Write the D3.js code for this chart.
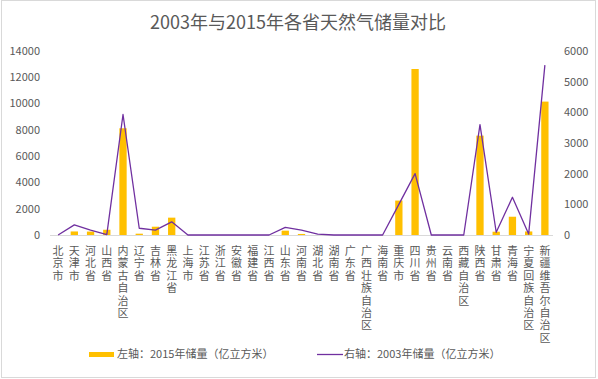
<!DOCTYPE html>
<html><head><meta charset="utf-8">
<script src="https://cdn.jsdelivr.net/npm/d3@7"></script>
<style>
html,body{margin:0;padding:0;background:#fff;}
svg{display:block;font-family:"Noto Sans CJK SC","Microsoft YaHei",sans-serif;}
.cat{font-family:"Liberation Sans","Noto Sans CJK SC",sans-serif;}
</style></head>
<body><svg id="c" width="598" height="379"></svg>
<script>
const categories = ["北京市","天津市","河北省","山西省","内蒙古自治区","辽宁省","吉林省","黑龙江省","上海市","江苏省","浙江省","安徽省","福建省","江西省","山东省","河南省","湖北省","湖南省","广东省","广西壮族自治区","海南省","重庆市","四川省","贵州省","云南省","西藏自治区","陕西省","甘肃省","青海省","宁夏回族自治区","新疆维吾尔自治区"];
const reserves2015 = [0,270,260,400,8120,100,630,1320,0,0,0,0,0,0,330,80,0,0,0,0,0,2620,12630,0,0,0,7560,250,1390,270,10150];
const reserves2003 = [0,330,160,10,3930,220,160,430,0,0,0,0,0,0,250,160,30,0,0,0,0,1000,2000,0,0,0,3600,90,1230,30,5540];
const leftTicks = [0,2000,4000,6000,8000,10000,12000,14000];
const rightTicks = [0,1000,2000,3000,4000,5000,6000];
const title = "2003年与2015年各省天然气储量对比";
const legendLabels = ["左轴：2015年储量（亿立方米）","右轴：2003年储量（亿立方米）"];

const svg = d3.select("#c");
const textColor = "#595959";
const barColor = "#FFC000";
const lineColor = "#7030A0";

svg.append("rect").attr("x",1.5).attr("y",0.5).attr("width",594).attr("height",377)
  .attr("fill","#fff").attr("stroke","#d9d9d9");

const x = d3.scaleBand().domain(categories).range([50,553]).padding(0);
const yL = d3.scaleLinear().domain([0,14000]).range([235,51]);
const yR = d3.scaleLinear().domain([0,6000]).range([235,51]);

svg.append("text").attr("x",298).attr("y",29).attr("text-anchor","middle")
  .attr("font-size",18).attr("fill",textColor).text(title);

svg.append("g").selectAll("text").data(leftTicks).join("text")
  .attr("x",40).attr("y",d=>yL(d)).attr("dy","0.35em").attr("text-anchor","end")
  .attr("font-size",11).attr("fill",textColor).text(d=>d);
svg.append("g").selectAll("text").data(rightTicks).join("text")
  .attr("x",564).attr("y",d=>yR(d)).attr("dy","0.35em").attr("text-anchor","start")
  .attr("font-size",11).attr("fill",textColor).text(d=>d);

const bw = x.bandwidth()*0.45;
svg.append("g").selectAll("rect").data(categories).join("rect")
  .attr("x",(d)=>x(d)+x.bandwidth()/2-bw/2)
  .attr("y",(d,i)=>yL(reserves2015[i]))
  .attr("width",bw)
  .attr("height",(d,i)=>yL(0)-yL(reserves2015[i]))
  .attr("fill",barColor);

svg.append("line").attr("x1",50).attr("x2",553).attr("y1",235.5).attr("y2",235.5)
  .attr("stroke","#d9d9d9").attr("stroke-width",1);

const line = d3.line().x((d,i)=>x(categories[i])+x.bandwidth()/2).y(d=>yR(d));
svg.append("path").datum(reserves2003).attr("d",line).attr("fill","none")
  .attr("stroke",lineColor).attr("stroke-width",1.3).attr("stroke-linejoin","round");

// category labels: characters stacked vertically
const cl = svg.append("g").selectAll("text").data(categories).join("text")
  .attr("class","cat").attr("font-size",11).attr("fill",textColor).attr("text-anchor","middle");
cl.each(function(d){
  const cx = x(d)+x.bandwidth()/2;
  const t = d3.select(this);
  Array.from(d).forEach((ch,k)=>{
    t.append("tspan").attr("x",cx).attr("y",255+k*12.4).text(ch);
  });
});

const lg = svg.append("g");
lg.append("rect").attr("x",89).attr("y",352).attr("width",25).attr("height",5).attr("fill",barColor);
lg.append("text").attr("x",117).attr("y",354.5).attr("dy","0.35em").attr("font-size",11).attr("fill",textColor).text(legendLabels[0]);
lg.append("line").attr("x1",317).attr("x2",343).attr("y1",354.5).attr("y2",354.5).attr("stroke",lineColor).attr("stroke-width",1.3);
lg.append("text").attr("x",344).attr("y",354.5).attr("dy","0.35em").attr("font-size",11).attr("fill",textColor).text(legendLabels[1]);
</script></body></html>
